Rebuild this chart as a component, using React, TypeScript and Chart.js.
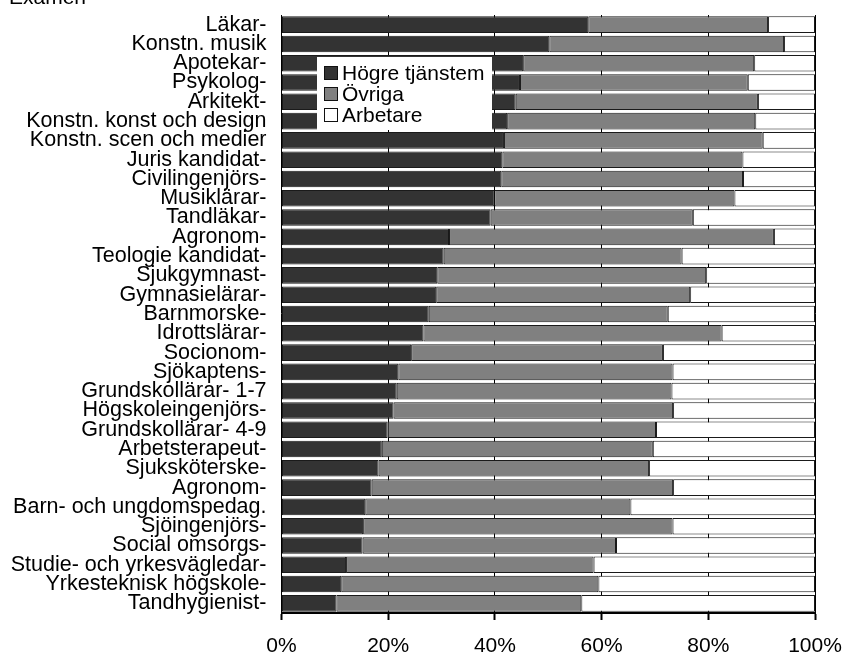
import React, { useEffect, useRef } from "react";
import { Chart, registerables } from "chart.js";

Chart.register(...registerables);

const title = "Examen";

const categories = [
  "Läkar-",
  "Konstn. musik",
  "Apotekar-",
  "Psykolog-",
  "Arkitekt-",
  "Konstn. konst och design",
  "Konstn. scen och medier",
  "Juris kandidat-",
  "Civilingenjörs-",
  "Musiklärar-",
  "Tandläkar-",
  "Agronom-",
  "Teologie kandidat-",
  "Sjukgymnast-",
  "Gymnasielärar-",
  "Barnmorske-",
  "Idrottslärar-",
  "Socionom-",
  "Sjökaptens-",
  "Grundskollärar- 1-7",
  "Högskoleingenjörs-",
  "Grundskollärar- 4-9",
  "Arbetsterapeut-",
  "Sjuksköterske-",
  "Agronom-",
  "Barn- och ungdomspedag.",
  "Sjöingenjörs-",
  "Social omsorgs-",
  "Studie- och yrkesvägledar-",
  "Yrkesteknisk högskole-",
  "Tandhygienist-",
];

const seriesNames = ["Högre tjänstem", "Övriga", "Arbetare"];

const hogre = [
  57.5, 50.2, 45.3, 44.7, 43.9, 42.3, 41.7, 41.4, 41.2, 39.9, 39.2, 31.4, 30.4, 29.2, 29.0, 27.6,
  26.6, 24.3, 21.9, 21.6, 21.0, 19.9, 18.8, 18.2, 16.9, 15.7, 15.3, 15.2, 12.1, 11.2, 10.3,
];

const ovriga = [
  33.7, 44.0, 43.3, 42.7, 45.4, 46.5, 48.5, 45.0, 45.3, 45.0, 37.9, 60.9, 44.6, 50.4, 47.6, 44.8,
  55.9, 47.2, 51.4, 51.5, 52.4, 50.3, 50.8, 50.7, 56.5, 49.7, 58.0, 47.5, 46.4, 48.2, 45.9,
];

const arbetare = [
  8.8, 5.8, 11.4, 12.6, 10.7, 11.2, 9.8, 13.6, 13.5, 15.1, 22.9, 7.7, 25.0, 20.4, 23.4, 27.6,
  17.5, 28.5, 26.7, 26.9, 26.6, 29.8, 30.4, 31.1, 26.6, 34.6, 26.7, 37.3, 41.5, 40.6, 43.8,
];

const xTicks = [0, 20, 40, 60, 80, 100];

const colors = ["#333333", "#808080", "#ffffff"];
const FONT = "'Liberation Sans', Arial, Helvetica, sans-serif";

export default function App() {
  const ref = useRef<HTMLCanvasElement>(null);

  useEffect(() => {
    const canvas = ref.current;
    if (!canvas) return;

    const titlePlugin = {
      id: "cornerTitle",
      afterDraw(chart: any) {
        const ctx = chart.ctx;
        ctx.save();
        ctx.fillStyle = "#000";
        ctx.font = `21px ${FONT}`;
        ctx.textAlign = "left";
        ctx.textBaseline = "alphabetic";
        ctx.fillText(title, 9, 4);
        ctx.restore();
      },
    };

    const legendPlugin = {
      id: "boxLegend",
      afterDatasetsDraw(chart: any) {
        const ctx = chart.ctx;
        ctx.save();
        ctx.fillStyle = "#ffffff";
        ctx.fillRect(317, 57, 175, 73);
        ctx.font = `21px ${FONT}`;
        ctx.textAlign = "left";
        ctx.textBaseline = "middle";
        chart.data.datasets.forEach((ds: any, i: number) => {
          const cy = 73 + i * 21;
          ctx.fillStyle = ds.backgroundColor;
          ctx.fillRect(324.5, cy - 6.5, 13, 13);
          ctx.strokeStyle = "#111";
          ctx.lineWidth = 1;
          ctx.strokeRect(324.5, cy - 6.5, 13, 13);
          ctx.fillStyle = "#000";
          ctx.fillText(ds.label, 342, cy + 1);
        });
        ctx.restore();
      },
    };

    const chart = new Chart(canvas, {
      type: "bar",
      data: {
        labels: categories,
        datasets: [hogre, ovriga, arbetare].map((d, i) => ({
          label: seriesNames[i],
          data: d,
          backgroundColor: colors[i],
          borderColor: "#1a1a1a",
          borderWidth: 1,
          borderSkipped: false,
          barPercentage: 0.86,
          categoryPercentage: 1,
        })),
      },
      options: {
        indexAxis: "y",
        animation: false,
        responsive: false,
        maintainAspectRatio: false,
        layout: { padding: { top: 15, right: 28, left: 0, bottom: 0 } },
        plugins: {
          legend: { display: false },
          tooltip: { enabled: false },
          title: { display: false },
        },
        scales: {
          x: {
            stacked: true,
            min: 0,
            max: 100,
            afterBuildTicks(scale: any) {
              scale.ticks = xTicks.map((v) => ({ value: v }));
            },
            afterFit(scale: any) {
              scale.height = 42;
              scale.paddingLeft = 0;
              scale.paddingRight = 0;
            },
            ticks: {
              color: "#000",
              font: { family: FONT, size: 21 },
              padding: 14,
              maxRotation: 0,
              callback: (v: any) => `${v}%`,
            },
            grid: {
              color: "#000",
              lineWidth: 1,
              drawTicks: true,
              tickLength: 7,
              tickWidth: 2,
              tickColor: "#000",
            },
            border: { display: true, color: "#000", width: 2 },
          },
          y: {
            stacked: true,
            afterFit(scale: any) {
              scale.width = 281.5;
              scale.paddingTop = 0;
              scale.paddingBottom = 0;
            },
            ticks: {
              autoSkip: false,
              color: "#000",
              font: { family: FONT, size: 21.5 },
              padding: 15,
            },
            grid: { display: false, drawTicks: false },
            border: { display: false },
          },
        },
      },
      plugins: [titlePlugin, legendPlugin],
    } as any);

    return () => chart.destroy();
  }, []);

  return (
    <div style={{ position: "fixed", left: 0, top: 0, width: 843, height: 655, background: "#fff" }}>
      <canvas ref={ref} width={843} height={655} style={{ display: "block" }} />
    </div>
  );
}
